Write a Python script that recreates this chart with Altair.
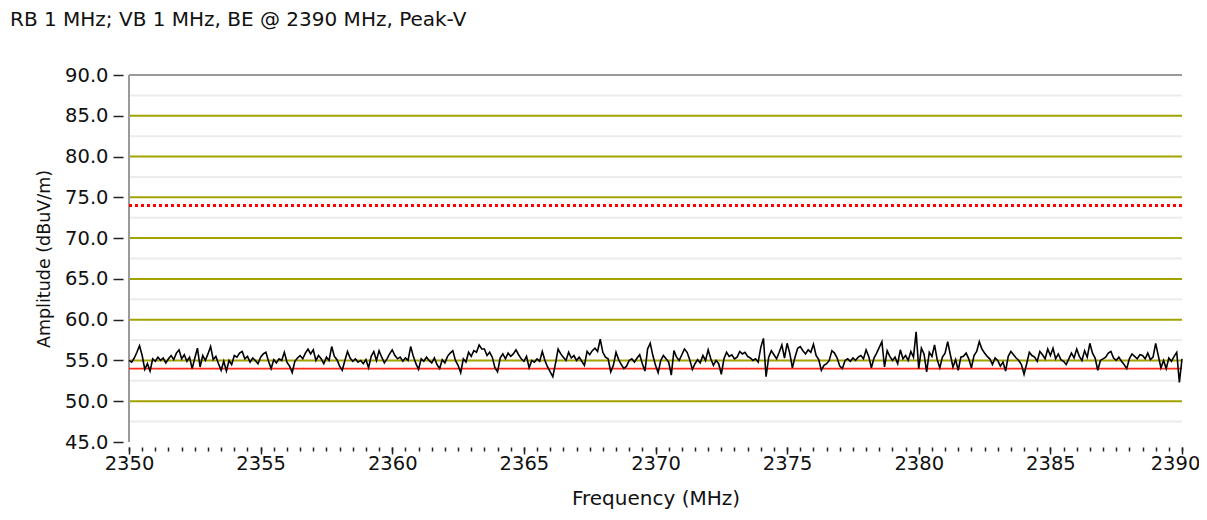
import altair as alt
import pandas as pd

# ---------------- data ----------------
chart_title = "RB 1 MHz; VB 1 MHz, BE @ 2390 MHz, Peak-V"
x_title = "Frequency (MHz)"
y_title = "Amplitude (dBuV/m)"

freq_start = 2350.0
freq_step = 0.1

amp_part1 = [
    55.0, 54.8, 55.3, 56.0, 56.8, 55.6, 53.9, 54.6, 53.7, 55.2,
    54.9, 55.4, 55.0, 55.3, 54.7, 55.2, 55.6, 55.1, 55.9, 56.3,
    55.2, 55.7, 54.9, 55.4, 54.0, 55.3, 56.5, 54.2, 55.6, 55.0,
    55.8, 56.7, 55.1, 55.5, 54.6, 53.8, 54.9, 53.7, 55.0, 54.5,
    55.6, 55.4, 55.9, 56.1, 55.2, 55.5, 54.8, 55.3, 55.0, 54.6,
    55.4, 55.8, 56.0, 54.9, 54.0, 55.1, 54.7, 55.2, 55.0, 56.0,
    54.8, 54.3, 53.5, 54.9, 55.3, 55.6, 55.2, 55.9, 56.4, 55.8,
    56.3, 55.0, 55.6, 55.2, 54.6, 55.4, 55.0, 56.7, 55.5, 55.1,
    54.3, 53.8, 55.0, 56.1, 55.3, 54.9, 55.2, 54.8, 55.0, 54.6,
    55.1, 54.1, 55.5, 56.1, 55.0, 56.2, 55.4, 54.7, 55.2, 55.8,
    56.3, 55.6, 55.2, 55.4, 54.9, 55.3, 55.0, 56.7, 55.5, 54.6,
    53.9, 55.2, 54.9, 55.4, 55.0, 54.7, 55.3, 54.5, 54.0, 55.1,
    54.7, 55.5, 55.9, 56.2, 55.0, 54.4, 53.5, 55.2, 54.8, 56.0,
    55.5, 56.2, 56.0, 56.9, 56.4,
]
amp_part2 = [
    56.4, 55.6, 56.0, 55.4, 54.1, 53.6, 55.3, 55.8, 55.2, 55.9,
    55.5, 55.8, 56.3, 55.7, 55.2, 54.9, 55.5, 54.1, 55.0, 54.8,
    55.2, 54.9, 56.1, 55.0, 54.2, 53.6, 53.0, 54.6, 56.4, 55.8,
    55.4, 55.0, 56.0, 55.3, 55.6, 55.0, 55.4, 54.9, 54.4, 56.1,
    55.7, 56.2, 56.5, 56.1, 57.6, 56.0, 55.4, 55.2, 53.6, 54.4,
    56.0, 55.1, 54.5, 54.0, 54.3, 55.0, 55.2, 54.8, 55.3, 55.7,
    54.6, 53.7, 56.4, 57.1, 55.6, 54.4, 53.5, 55.0, 55.6, 55.2,
    54.8, 53.2, 56.2, 55.4, 55.0, 55.7, 56.4, 56.0, 55.1, 53.9,
    54.6, 55.1, 54.7, 55.6, 55.0, 56.3, 55.2, 54.4, 55.0, 54.6,
    53.3, 55.2, 56.0, 55.5, 55.7, 55.2, 55.4, 56.1, 55.8, 56.0,
    55.5, 55.3, 55.0, 55.2, 54.8, 56.6, 57.7, 53.0, 55.4, 56.2,
    55.7, 55.2, 56.0, 56.9, 55.3, 57.1, 55.9, 54.1, 55.4, 56.5,
    56.7, 56.2, 55.8, 56.3, 56.0, 57.0, 55.6, 55.1, 53.8, 54.4,
    54.6, 55.0, 56.2,
]
amp_part3 = [
    55.9, 55.3, 54.3, 54.0, 55.0, 55.2, 54.9, 55.3, 55.0, 55.4,
    55.6, 55.2, 56.3, 55.5, 54.1, 55.3, 55.9, 56.6, 57.3, 54.2,
    56.2, 55.5, 55.0, 55.4, 54.6, 56.3, 55.2, 55.6, 55.0, 56.1,
    55.4, 58.5, 54.0, 56.5, 55.8, 53.6, 56.0, 55.5, 56.9, 55.1,
    54.1, 55.4, 55.9, 57.3, 55.7, 54.2, 55.1, 53.8, 55.4, 55.5,
    55.9, 55.2, 54.1, 55.6, 56.1, 57.3, 56.4, 55.9, 55.5, 55.2,
    54.5, 55.3, 55.0, 54.3, 54.8, 53.7, 55.5, 56.1, 55.7, 55.3,
    55.0, 54.5, 53.3, 54.6, 56.0, 55.6, 55.4, 54.9, 56.1, 55.7,
    55.2, 56.4, 55.6, 56.5, 55.2, 55.8, 55.1, 54.9, 54.5, 55.2,
    55.9, 55.3, 56.4, 55.5, 55.0, 56.2, 55.4, 57.1, 55.9, 55.3,
    53.8, 55.0, 55.2, 55.4, 55.9, 56.1, 55.3, 55.0, 55.4, 54.9,
    54.5, 54.0, 55.2, 55.8, 55.5, 55.2, 55.7, 55.6, 55.2, 55.9,
    55.1, 55.4, 57.1, 55.6, 54.1, 55.0, 54.0, 55.3, 54.9, 55.5,
    56.0, 52.3, 55.2,
]

limit_peak = 74.0      # red dotted
limit_avg = 54.0       # red solid

x_domain = [2350, 2390]
y_domain = [45, 90]
x_major_ticks = [2350, 2355, 2360, 2365, 2370, 2375, 2380, 2385, 2390]
x_minor_ticks = [2350 + 0.5 * i for i in range(81)]
y_ticks = [45, 50, 55, 60, 65, 70, 75, 80, 85, 90]
olive_grid = [50, 55, 60, 65, 70, 75, 80, 85]
light_grid = [47.5, 52.5, 57.5, 62.5, 67.5, 72.5, 77.5, 82.5, 87.5]

# ---------------- build tables ----------------
amps = amp_part1 + amp_part2 + amp_part3
trace = pd.DataFrame({
    "freq": [round(freq_start + freq_step * i, 1) for i in range(len(amps))],
    "y": amps,
})
light_df = pd.DataFrame({"y": light_grid})
olive_df = pd.DataFrame({"y": olive_grid})
peak_df = pd.DataFrame({"y": [limit_peak]})
avg_df = pd.DataFrame({"y": [limit_avg]})
top_df = pd.DataFrame({"y": [y_domain[1]]})
title_df = pd.DataFrame({"t": [chart_title]})

W, H = 1053, 367
FONT = "DejaVu Sans"

xs = alt.Scale(domain=x_domain, nice=False, zero=False)
ys = alt.Scale(domain=y_domain, nice=False, zero=False)

y_axis = alt.Axis(values=y_ticks, format=".1f", orient="left",
                  offset=6, domain=False, grid=False,
                  tickSize=10, tickWidth=1.5, tickColor="#222",
                  labelFont=FONT, labelFontSize=19.5, labelColor="#111",
                  labelPadding=5, labelFlush=False,
                  titleFont=FONT, titleFontSize=17.5, titleFontWeight="normal",
                  titleColor="#111", titlePadding=11)


def yenc():
    return alt.Y("y:Q", scale=ys, title=y_title, axis=y_axis)


light = alt.Chart(light_df).mark_rule(color="#ececec", strokeWidth=2).encode(y=yenc())
olive = alt.Chart(olive_df).mark_rule(color="#a3a300", strokeWidth=2).encode(y=yenc())
top = alt.Chart(top_df).mark_rule(color="#9a9a9a", strokeWidth=2).encode(y=yenc())
left = alt.Chart(top_df).mark_rule(color="#9a9a9a", strokeWidth=2).encode(
    x=alt.value(0), y=alt.value(0), y2=alt.value(H))
peak = alt.Chart(peak_df).mark_rule(color="#ff0000", strokeWidth=3,
                                    strokeDash=[3, 3]).encode(y=yenc())
avg = alt.Chart(avg_df).mark_rule(color="#ff2a1a", strokeWidth=1.6).encode(y=yenc())

line = alt.Chart(trace).mark_line(color="#000000", strokeWidth=1.6).encode(
    x=alt.X("freq:Q", scale=xs, title=x_title,
            axis=alt.Axis(values=x_major_ticks, format="d", orient="bottom",
                          offset=5, domain=False, grid=False,
                          tickSize=7, tickWidth=1.5, tickColor="#222",
                          labelFont=FONT, labelFontSize=19.5, labelColor="#111",
                          labelPadding=0, labelFlush=False,
                          labelOffset={"condition": {"test": "datum.value == 2390",
                                                     "value": -7},
                                       "value": 0},
                          titleFont=FONT, titleFontSize=20, titleFontWeight="normal",
                          titleColor="#111", titlePadding=16)),
    y=yenc(),
)

minor = alt.Chart(trace).mark_point(opacity=0).encode(
    x=alt.X("freq:Q", scale=xs, title=None,
            axis=alt.Axis(values=x_minor_ticks, orient="bottom", offset=5,
                          domain=False, grid=False, labels=False,
                          tickSize=4, tickWidth=1.5, tickColor="#222")),
    y=yenc(),
)

title_txt = alt.Chart(title_df).mark_text(
    align="left", baseline="alphabetic", font=FONT, fontSize=20, color="#111"
).encode(x=alt.value(-119), y=alt.value(-49), text="t:N")

chart = alt.layer(
    light, olive, top, left, peak, avg, minor, line, title_txt
).resolve_axis(x="independent").properties(
    width=W, height=H,
    autosize=alt.AutoSizeParams(type="none"),
    padding={"left": 121, "top": 67, "right": 17, "bottom": 70},
    background="white",
).configure_view(stroke=None)

chart.save("out.html", embed_options={"renderer": "svg", "actions": False})
